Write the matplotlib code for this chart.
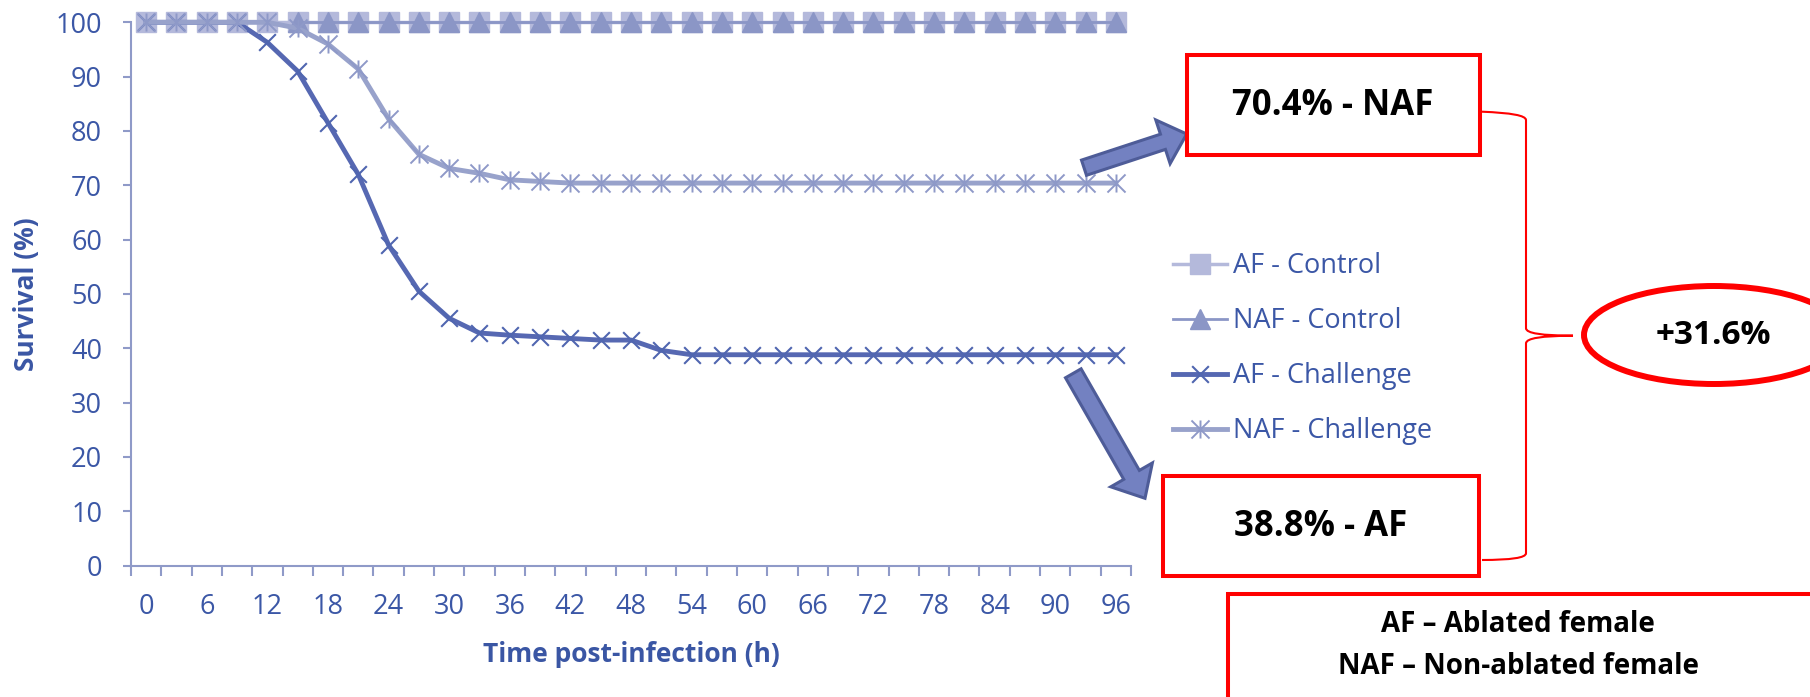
import numpy as np
import matplotlib
matplotlib.use("Agg")
import matplotlib.pyplot as plt
from matplotlib.path import Path
from matplotlib.patches import Rectangle, Ellipse, FancyArrow, PathPatch

plt.rcParams["font.family"] = ["Open Sans", "DejaVu Sans"]

# Survival (%) every 3 h after infection
hours = [0, 3, 6, 9, 12, 15, 18, 21, 24, 27, 30, 33, 36, 39, 42, 45, 48,
         51, 54, 57, 60, 63, 66, 69, 72, 75, 78, 81, 84, 87, 90, 93, 96]
af_control = [100, 100, 100, 100, 100, 100, 100, 100, 100, 100, 100,
              100, 100, 100, 100, 100, 100, 100, 100, 100, 100, 100,
              100, 100, 100, 100, 100, 100, 100, 100, 100, 100, 100]
naf_control = [np.nan, np.nan, np.nan, np.nan, np.nan, 100, 100, 100, 100,
               100, 100, 100, 100, 100, 100, 100, 100, 100, 100, 100, 100,
               100, 100, 100, 100, 100, 100, 100, 100, 100, 100, 100, 100]
af_challenge = [100, 100, 100, 100, 96.3, 91.0, 81.5, 72.0, 59.0, 50.5,
                45.5, 42.8, 42.4, 42.1, 41.8, 41.5, 41.5, 39.6, 38.8, 38.8,
                38.8, 38.8, 38.8, 38.8, 38.8, 38.8, 38.8, 38.8, 38.8, 38.8,
                38.8, 38.8, 38.8]
naf_challenge = [100, 100, 100, 100, 100, 98.9, 96.0, 91.4, 82.2, 75.7,
                 73.1, 72.2, 71.0, 70.7, 70.4, 70.4, 70.4, 70.4, 70.4, 70.4,
                 70.4, 70.4, 70.4, 70.4, 70.4, 70.4, 70.4, 70.4, 70.4, 70.4,
                 70.4, 70.4, 70.4]
final_naf = 70.4
final_af = 38.8

W, H = 1810, 697
TXT = "#3b57a6"
AXC = "#8f9ac8"

fig = plt.figure(figsize=(W / 100, H / 100), dpi=100)
ax = fig.add_axes([131 / W, 1 - 565.5 / H, 1000 / W, 543.2 / H])

x = np.arange(len(hours))
asterisk = Path([(0, -1), (0, 1), (-1, -1), (1, 1), (-1, 1), (1, -1)],
                [Path.MOVETO, Path.LINETO] * 3)
cross = Path([(-1, -1), (1, 1), (-1, 1), (1, -1)],
             [Path.MOVETO, Path.LINETO] * 2)

ax.plot(x, af_control, color="#b4b9db", lw=2.5, marker="s", ms=14,
        mfc="#b4b9db", mec="#b4b9db", label="AF - Control",
        clip_on=False, zorder=3)
ax.plot(x, naf_control, color="#8b96c6", lw=2.0, marker="^", ms=15,
        mfc="#8b96c6", mec="#8b96c6", label="NAF - Control",
        clip_on=False, zorder=4)
ax.plot(x, af_challenge, color="#5668b2", lw=3.5, marker=cross, ms=12,
        mew=1.5, mec="#5066b0", label="AF - Challenge",
        clip_on=False, zorder=5)
ax.plot(x, naf_challenge, color="#98a2cb", lw=3.5, marker=asterisk, ms=13,
        mew=1.4, mec="#8e99c8", label="NAF - Challenge",
        clip_on=False, zorder=6)

ax.set_xlim(-0.5, len(hours) - 0.5)
ax.set_ylim(0, 100)
for s in ["top", "right"]:
    ax.spines[s].set_visible(False)
for s in ["left", "bottom"]:
    ax.spines[s].set_color(AXC)
    ax.spines[s].set_linewidth(1.5)

ax.set_yticks(range(0, 101, 10))
ax.tick_params(axis="y", length=5.8, width=1.5, color=AXC, labelcolor=TXT,
               labelsize=19.5, pad=15)
ax.set_xticks(np.arange(-0.5, len(hours), 1))
ax.set_xticklabels([])
ax.tick_params(axis="x", which="major", length=7.2, width=1.5, color=AXC)
ax.set_xticks(x[::2], minor=True)
ax.set_xticklabels([str(h) for h in hours[::2]], minor=True)
ax.tick_params(axis="x", which="minor", length=0, labelcolor=TXT,
               labelsize=19.5, pad=20)

ax.set_xlabel("Time post-infection (h)", fontsize=19, fontweight="bold",
              color="#3a56a4", va="center")
ax.xaxis.set_label_coords(0.5, (565.5 - 654) / 543.2)
ax.set_ylabel("Survival (%)", fontsize=19, fontweight="bold",
              color="#3a56a4", va="center")
ax.yaxis.set_label_coords((26 - 131) / 1000, 0.5)

ax.legend(loc="upper left", bbox_to_anchor=(1173 / W, 1 - 252 / H),
          bbox_transform=fig.transFigure, frameon=False, fontsize=19.5,
          handlelength=2.0, handletextpad=0.2, labelspacing=1.0,
          borderpad=0, borderaxespad=0, labelcolor=TXT)

# annotation layer in pixel coordinates
ov = fig.add_axes([0, 0, 1, 1])
ov.set_xlim(0, W)
ov.set_ylim(H, 0)
ov.axis("off")

arrow_kw = dict(length_includes_head=True, fc="#7381c1", ec="#4e5c98",
                lw=2.2, joinstyle="miter")
ov.add_patch(FancyArrow(1084, 167.7, 102.7, -33.7, width=16, head_width=46,
                        head_length=25, **arrow_kw))
ov.add_patch(FancyArrow(1073.3, 373.3, 71.7, 125, width=18, head_width=48,
                        head_length=27, **arrow_kw))

box_kw = dict(fc="white", ec="#ff0000", lw=2.9, joinstyle="miter")
ov.add_patch(Rectangle((1187, 55.3), 293, 100, **box_kw))
ov.add_patch(Rectangle((1163, 476.3), 316, 100, **box_kw))
ov.add_patch(Rectangle((1228, 593.7), 600, 200, **box_kw))

ov.text(1333, 106, f"{final_naf}% - NAF", fontsize=25, fontweight="bold",
        ha="center", va="center", color="black")
ov.text(1321, 527, f"{final_af}% - AF", fontsize=25, fontweight="bold",
        ha="center", va="center", color="black")

# curly brace joining the two boxes
brace = Path(
    [(1482, 111.7), (1526, 113.3), (1526, 120),
     (1526, 328.3), (1526, 335.7), (1573, 335.7),
     (1526, 335.7), (1526, 343.3),
     (1526, 553.3), (1526, 560), (1482, 560)],
    [Path.MOVETO, Path.CURVE3, Path.CURVE3,
     Path.LINETO, Path.CURVE3, Path.CURVE3,
     Path.CURVE3, Path.CURVE3,
     Path.LINETO, Path.CURVE3, Path.CURVE3])
ov.add_patch(PathPatch(brace, fc="none", ec="#ff0000", lw=1.5))

ov.add_patch(Ellipse((1714, 335), 260, 98, fc="white", ec="#ff0000", lw=4.3))
ov.text(1713, 336, f"+{final_naf - final_af:.1f}%", fontsize=24,
        fontweight="bold", ha="center", va="center", color="black")

ov.text(1518, 624.5, "AF – Ablated female", fontsize=20, fontweight="bold",
        ha="center", va="center", color="black")
ov.text(1518, 667, "NAF – Non-ablated female", fontsize=20,
        fontweight="bold", ha="center", va="center", color="black")

fig.savefig("out.png", dpi=100)
